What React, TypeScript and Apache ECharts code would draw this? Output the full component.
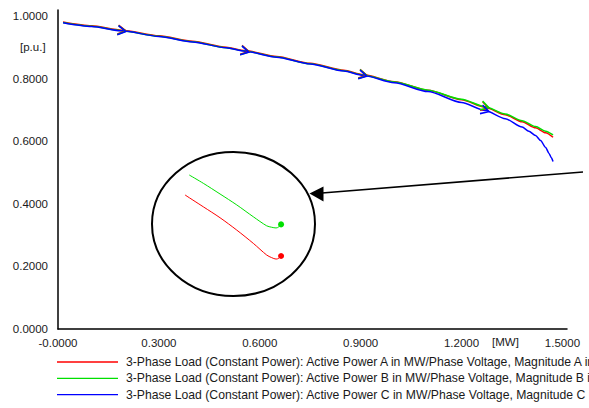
import React, { useEffect, useRef } from "react";
import * as echarts from "echarts";

// Main curves: active power [MW] vs voltage [p.u.]
const pRG = [0.015, 0.1, 0.19, 0.3, 0.4, 0.5, 0.556, 0.65, 0.75, 0.85, 0.907, 1.0, 1.1, 1.2, 1.27, 1.33, 1.38, 1.42, 1.45, 1.472];
const vRed = [0.9805, 0.9683, 0.9545, 0.9365, 0.9189, 0.9002, 0.8893, 0.8702, 0.8487, 0.8262, 0.8128, 0.79, 0.7625, 0.7325, 0.7085, 0.6845, 0.662, 0.6425, 0.627, 0.6125];
const vGreen = [0.979, 0.9668, 0.953, 0.935, 0.9174, 0.8987, 0.8878, 0.8687, 0.8473, 0.8248, 0.8115, 0.789, 0.763, 0.734, 0.7102, 0.6868, 0.6653, 0.6465, 0.6315, 0.6198];
const pBlue = [0.015, 0.1, 0.19, 0.3, 0.4, 0.5, 0.556, 0.65, 0.75, 0.85, 0.907, 1.0, 1.1, 1.2, 1.27, 1.33, 1.38, 1.4, 1.42, 1.435, 1.45, 1.46, 1.467, 1.472];
const vBlue = [0.9785, 0.9663, 0.9525, 0.9345, 0.9169, 0.8982, 0.8873, 0.8682, 0.8466, 0.824, 0.8105, 0.7865, 0.7585, 0.7235, 0.698, 0.672, 0.645, 0.632, 0.618, 0.602, 0.58, 0.561, 0.547, 0.535];
// indexes of the direction arrows on each curve
const arrowIdx = [2, 6, 10, 14];
const arrowRot = [-8.5, -12, -12, -17];

// Magnified inset (end of phases A and B)
const insetPGreen = [1.4063, 1.4159, 1.4273, 1.4387, 1.45, 1.4591, 1.4625, 1.4655, 1.4673, 1.4682, 1.4689];
const insetVGreen = [0.6379, 0.6344, 0.6299, 0.6253, 0.6203, 0.6165, 0.6159, 0.6156, 0.616, 0.6167, 0.6171];
const insetPRed = [1.4034, 1.4159, 1.4273, 1.4387, 1.45, 1.4591, 1.4625, 1.4655, 1.4673, 1.4682, 1.4689];
const insetVRed = [0.6295, 0.6245, 0.6199, 0.6147, 0.6091, 0.6042, 0.6031, 0.6025, 0.6028, 0.6035, 0.6038];

const names = [
  "3-Phase Load (Constant Power): Active Power A in MW/Phase Voltage, Magnitude A in p.u.",
  "3-Phase Load (Constant Power): Active Power B in MW/Phase Voltage, Magnitude B in p.u.",
  "3-Phase Load (Constant Power): Active Power C in MW/Phase Voltage, Magnitude C in p.u.",
];
const colors = ["#ff0000", "#00e000", "#0000ff"];

const FONT = "'Liberation Sans', Arial, sans-serif";
const ARROW = "path://M0,0L10,5L0,10";

function buildData(px: number[], vy: number[], color: string) {
  return px.map((p, i) => {
    const k = arrowIdx.indexOf(i);
    if (k >= 0) {
      return {
        value: [p, vy[i]],
        symbol: ARROW,
        symbolSize: [8, 9],
        symbolRotate: arrowRot[k],
        itemStyle: { color: "rgba(0,0,0,0)", borderColor: color, borderWidth: 1.5 },
      };
    }
    return { value: [p, vy[i]], symbol: "none" };
  });
}

function insetData(px: number[], vy: number[]) {
  return px.map((p, i) =>
    i === px.length - 1
      ? { value: [p, vy[i]], symbol: "circle", symbolSize: 6 }
      : { value: [p, vy[i]], symbol: "none" }
  );
}

function mainSeries(i: number, px: number[], vy: number[]) {
  return {
    name: names[i],
    type: "line",
    xAxisIndex: 0,
    yAxisIndex: 0,
    symbol: "none",
    showSymbol: true,
    smooth: 0.25,
    smoothMonotone: "x",
    data: buildData(px, vy, colors[i]),
    lineStyle: { color: colors[i], width: 1.5 },
    itemStyle: { color: colors[i] },
  };
}

export default function App() {
  const ref = useRef<HTMLDivElement>(null);
  useEffect(() => {
    if (!ref.current) return;
    const chart = echarts.init(ref.current, undefined, { renderer: "svg" });
    const labelStyle = { color: "#1a1a1a", fontFamily: FONT, fontSize: 11.5 };
    chart.setOption({
      animation: false,
      backgroundColor: "#ffffff",
      grid: [
        { left: 58, top: 10, width: 509, height: 319 },
        { left: 180, top: 170, width: 110, height: 95 },
      ],
      xAxis: [
        {
          type: "value",
          gridIndex: 0,
          min: 0,
          max: 1.5135,
          interval: 0.3,
          axisLine: { show: true, lineStyle: { color: "#000", width: 1.5 } },
          axisTick: { show: false },
          splitLine: { show: false },
          axisLabel: {
            ...labelStyle,
            margin: 8,
            showMaxLabel: false,
            formatter: (v: number) => (v === 0 ? "-0.0000" : v.toFixed(4)),
          },
        },
        { type: "value", gridIndex: 1, min: 1.4, max: 1.475, show: false },
      ],
      yAxis: [
        {
          type: "value",
          gridIndex: 0,
          min: 0,
          max: 1.019,
          interval: 0.2,
          axisLine: { show: true, lineStyle: { color: "#000", width: 1.5 } },
          axisTick: { show: false },
          splitLine: { show: false },
          axisLabel: {
            ...labelStyle,
            margin: 10,
            showMaxLabel: false,
            formatter: (v: number) => v.toFixed(4),
          },
        },
        { type: "value", gridIndex: 1, min: 0.6, max: 0.64, show: false },
      ],
      legend: {
        data: names,
        orient: "vertical",
        left: 57,
        top: 355,
        padding: 0,
        icon: "rect",
        itemWidth: 61,
        itemHeight: 1.3,
        itemGap: 2.3,
        textStyle: { ...labelStyle, fontSize: 12.2, padding: [0, 0, 0, 3], lineHeight: 14 },
      },
      graphic: [
        {
          type: "text",
          left: 20,
          top: 41,
          style: { text: "[p.u.]", fill: "#1a1a1a", font: `11.5px ${FONT}` },
        },
        {
          type: "text",
          left: 492,
          top: 336,
          style: { text: "[MW]", fill: "#1a1a1a", font: `11.5px ${FONT}` },
        },
        {
          type: "ellipse",
          shape: { cx: 233.5, cy: 224, rx: 81.5, ry: 72 },
          style: { fill: "none", stroke: "#000", lineWidth: 2 },
          z: 10,
        },
        {
          type: "line",
          shape: { x1: 583, y1: 172, x2: 322, y2: 193 },
          style: { stroke: "#000", lineWidth: 1.5 },
          z: 10,
        },
        {
          type: "polygon",
          shape: { points: [[309.5, 193.5], [323.5, 186.5], [323.5, 201.5]] },
          style: { fill: "#000" },
          z: 10,
        },
      ],
      series: [
        mainSeries(0, pRG, vRed),
        mainSeries(1, pRG, vGreen),
        mainSeries(2, pBlue, vBlue),
        {
          name: "inset A",
          type: "line",
          xAxisIndex: 1,
          yAxisIndex: 1,
          smooth: 0.3,
          data: insetData(insetPRed, insetVRed),
          lineStyle: { color: colors[0], width: 1 },
          itemStyle: { color: colors[0] },
        },
        {
          name: "inset B",
          type: "line",
          xAxisIndex: 1,
          yAxisIndex: 1,
          smooth: 0.3,
          data: insetData(insetPGreen, insetVGreen),
          lineStyle: { color: colors[1], width: 1 },
          itemStyle: { color: colors[1] },
        },
      ],
    });
    return () => chart.dispose();
  }, []);
  return (
    <div
      ref={ref}
      style={{ position: "fixed", left: 0, top: 0, width: 589, height: 408 }}
    />
  );
}
